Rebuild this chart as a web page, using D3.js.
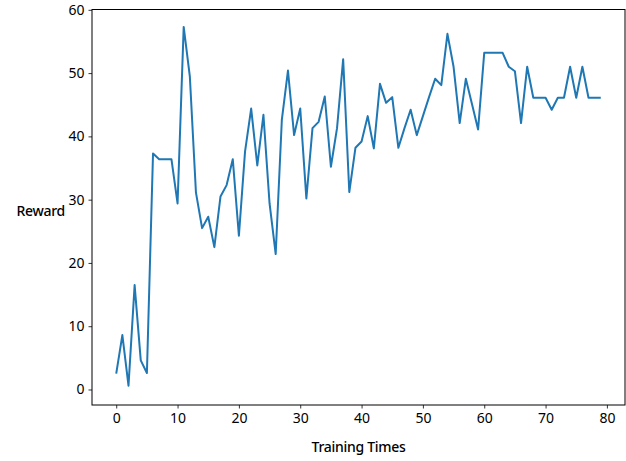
<!DOCTYPE html>
<html>
<head>
<meta charset="utf-8">
<script src="https://cdn.jsdelivr.net/npm/d3@7"></script>
<style>
  body { margin: 0; background: #fff; }
  text { font-family: "Noto Sans", sans-serif; fill: #000; }
</style>
</head>
<body>
<script>
// reward per training round
let rewards = [
  2.5, 8.6, 0.6, 16.5, 4.6, 2.6, 37.3, 36.4, 36.4, 36.4,
  29.4, 57.3, 49.5, 31.1, 25.5, 27.3, 22.5, 30.5, 32.3, 36.4,
  24.3, 37.6, 44.4, 35.4, 43.4, 29.4, 21.4, 42.6, 50.4, 40.2,
  44.4, 30.2, 41.3, 42.3, 46.3, 35.2, 41.3, 52.2, 31.2, 38.2,
  39.2, 43.2, 38.1, 48.3, 45.3, 46.2, 38.2, 41.3, 44.2, 40.2,
  43.2, 46.2, 49.1, 48.1, 56.2, 51.0, 42.1, 49.1, 45.1, 41.1,
  53.2, 53.2, 53.2, 53.2, 51.0, 50.3, 42.1, 51.0, 46.1, 46.1,
  46.1, 44.2, 46.1, 46.1, 51.0, 46.1, 51.0, 46.1, 46.1, 46.1,
];
let xTicks = [0, 10, 20, 30, 40, 50, 60, 70, 80];
let yTicks = [0, 10, 20, 30, 40, 50, 60];

function graficar() {
  let w = 626;
  let h = 461;
  let m = { left: 92, right: 1, top: 9.5, bottom: 56 };

  let svg = d3.select("body").append("svg").attr("width", w).attr("height", h);

  let n = rewards.length - 1;
  let x = d3.scaleLinear()
    .domain([-0.05 * n, n * 1.05])
    .range([m.left, w - m.right]);

  let y = d3.scaleLinear()
    .domain([-2.45, 60.05])
    .range([h - m.bottom, m.top]);

  // ejes
  let ax = svg.append("g")
    .attr("transform", "translate(0," + (h - m.bottom) + ")")
    .call(d3.axisBottom(x).tickValues(xTicks).tickSize(3.5).tickPadding(5).tickSizeOuter(0));
  let ay = svg.append("g")
    .attr("transform", "translate(" + m.left + ",0)")
    .call(d3.axisLeft(y).tickValues(yTicks).tickSize(3.5).tickPadding(4).tickSizeOuter(0));

  [ax, ay].forEach(function (g) {
    g.select(".domain").remove();
    g.selectAll("text").style("font-size", "14px").attr("fill", "#1a1a1a");
    g.selectAll("line").attr("stroke", "#000").attr("stroke-width", 0.8);
  });

  svg.append("rect")
    .attr("x", m.left).attr("y", m.top)
    .attr("width", w - m.right - m.left).attr("height", h - m.bottom - m.top)
    .attr("fill", "none").attr("stroke", "#000").attr("stroke-width", 1);

  svg.append("path")
    .datum(rewards)
    .attr("fill", "none")
    .attr("stroke", "#1f77b4")
    .attr("stroke-width", 2)
    .attr("stroke-linejoin", "round")
    .attr("d", d3.line()
      .x(function (d, i) { return x(i); })
      .y(function (d) { return y(d); }));

  svg.append("text")
    .text("Training Times")
    .attr("x", (m.left + w - m.right) / 2)
    .attr("y", 452)
    .attr("text-anchor", "middle")
    .style("font-size", "14px")
    .style("font-weight", 500)
    .style("letter-spacing", "-0.3px");

  svg.append("text")
    .text("Reward")
    .attr("x", 65)
    .attr("y", 216)
    .attr("text-anchor", "end")
    .style("font-size", "14px")
    .style("font-weight", 500)
    .style("letter-spacing", "-0.3px");
}

graficar();
</script>
</body>
</html>
